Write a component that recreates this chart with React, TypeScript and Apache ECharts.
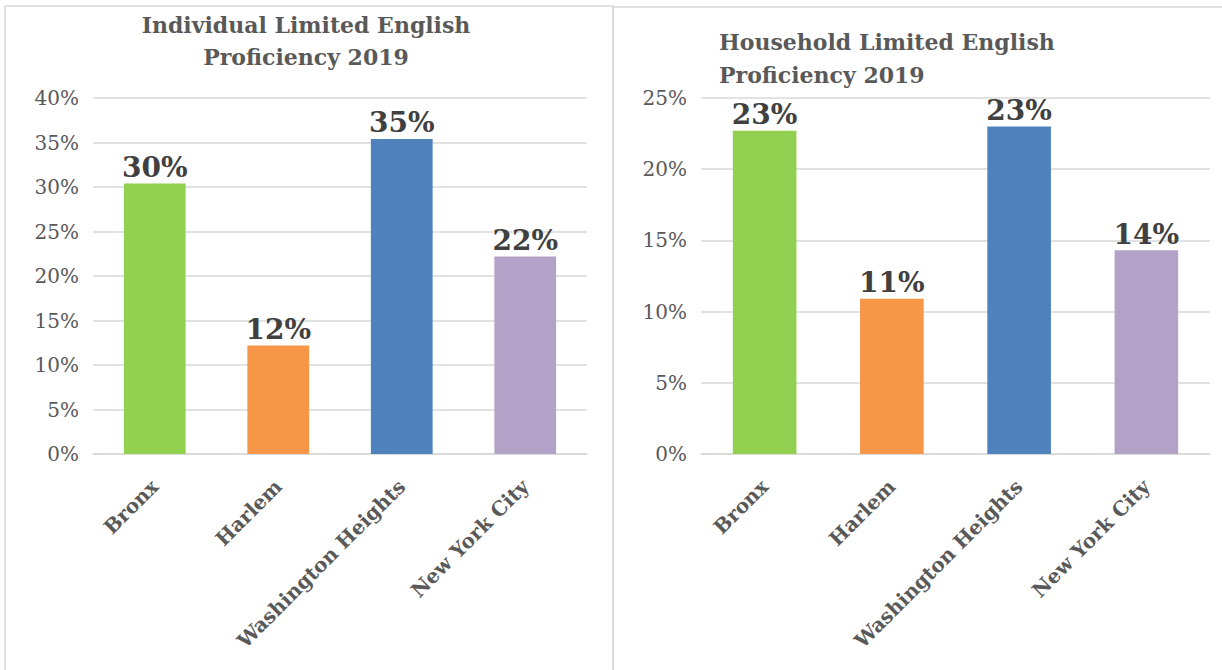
import React, { useEffect, useRef } from "react";
import * as echarts from "echarts";

const categories = ["Bronx", "Harlem", "Washington Heights", "New York City"];
const individualValues = [30.4, 12.2, 35.4, 22.2];
const householdValues = [22.7, 10.9, 23.0, 14.3];
const barColors = ["#92d050", "#f79646", "#4f81bd", "#b3a2c7"];
const individualTicks = { min: 0, max: 40, interval: 5 };
const householdTicks = { min: 0, max: 25, interval: 5 };
const titles = ["Individual Limited English\nProficiency 2019", "Household Limited English\nProficiency 2019"];

const FONT = "'DejaVu Serif', serif";

export default function App() {
  const ref = useRef<HTMLDivElement>(null);
  useEffect(() => {
    const chart = echarts.init(ref.current!, null, { renderer: "svg" });
    const mkY = (idx: number, t: { min: number; max: number; interval: number }) => ({
      type: "value",
      gridIndex: idx,
      min: t.min,
      max: t.max,
      interval: t.interval,
      axisLine: { show: false },
      axisTick: { show: false },
      splitLine: { lineStyle: { color: "#d9d9d9", width: 1.5 } },
      axisLabel: {
        formatter: "{value}%",
        color: "#595959",
        fontSize: 20,
        fontFamily: FONT,
        margin: 14,
      },
    });
    const mkX = (idx: number) => ({
      type: "category",
      gridIndex: idx,
      data: categories,
      axisLine: { lineStyle: { color: "#d9d9d9", width: 1.5 } },
      axisTick: { show: false },
      axisLabel: {
        rotate: 45,
        interval: 0,
        color: "#595959",
        fontSize: 20,
        fontWeight: "bold",
        fontFamily: FONT,
        margin: 29,
      },
    });
    const mkSeries = (idx: number, vals: number[]) => ({
      type: "bar",
      xAxisIndex: idx,
      yAxisIndex: idx,
      barWidth: "50%",
      data: vals.map((v, i) => ({ value: v, itemStyle: { color: barColors[i] } })),
      label: {
        show: true,
        position: "top",
        distance: 2,
        formatter: (p: any) => Math.round(p.value) + "%",
        color: "#404040",
        fontSize: 28,
        fontWeight: "bold",
        fontFamily: FONT,
      },
    });
    chart.setOption({
      animation: false,
      backgroundColor: "#ffffff",
      title: [
        {
          text: titles[0],
          left: 306,
          top: 9,
          padding: 0,
          textAlign: "center",
          textStyle: { fontSize: 22, fontWeight: "bold", color: "#595959", fontFamily: FONT, lineHeight: 32 },
        },
        {
          text: titles[1],
          left: 719,
          top: 25,
          padding: 0,
          textStyle: { fontSize: 22, fontWeight: "bold", color: "#595959", fontFamily: FONT, lineHeight: 33 },
        },
      ],
      grid: [
        { left: 93, right: 1222 - 587, top: 98, bottom: 670 - 454 },
        { left: 701, right: 1222 - 1210, top: 98, bottom: 670 - 454 },
      ],
      xAxis: [mkX(0), mkX(1)],
      yAxis: [mkY(0, individualTicks), mkY(1, householdTicks)],
      series: [mkSeries(0, individualValues), mkSeries(1, householdValues)],
      graphic: [
        { type: "rect", shape: { x: 5, y: 6, width: 608, height: 700 }, style: { fill: "none", stroke: "#d9d9d9", lineWidth: 1.5 } },
        { type: "rect", shape: { x: 613, y: 7, width: 700, height: 700 }, style: { fill: "none", stroke: "#d9d9d9", lineWidth: 1.5 } },
      ],
    });
    return () => chart.dispose();
  }, []);
  return <div ref={ref} style={{ position: "fixed", left: 0, top: 0, width: 1222, height: 670 }} />;
}
